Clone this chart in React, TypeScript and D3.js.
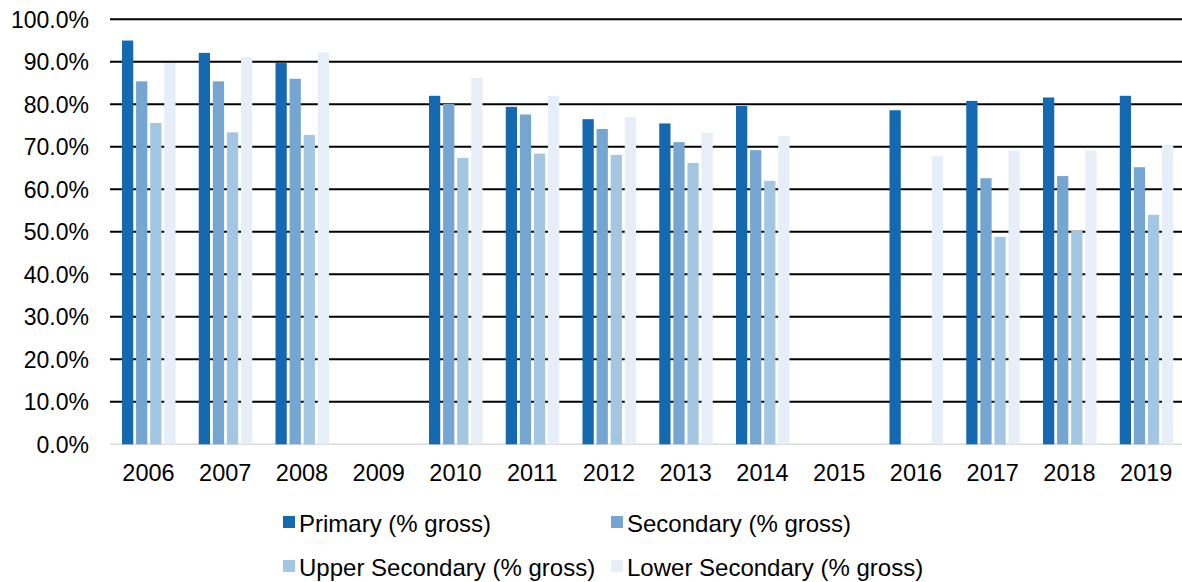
import React from "react";
import * as d3 from "d3";

const years = ["2006","2007","2008","2009","2010","2011","2012","2013","2014","2015","2016","2017","2018","2019"];
const primary: (number|null)[] = [95.0,92.1,89.7,null,82.0,79.4,76.5,75.5,79.6,null,78.6,80.8,81.6,82.0];
const secondary: (number|null)[] = [85.4,85.4,86.0,null,80.1,77.6,74.2,71.1,69.2,null,null,62.6,63.1,65.2];
const upperSecondary: (number|null)[] = [75.6,73.4,72.8,null,67.4,68.4,68.1,66.2,62.0,null,null,48.8,50.2,54.0];
const lowerSecondary: (number|null)[] = [89.7,91.1,92.2,null,86.2,82.0,77.0,73.3,72.5,null,67.8,69.1,69.1,70.4];
const seriesNames = ["Primary (% gross)","Secondary (% gross)","Upper Secondary (% gross)","Lower Secondary (% gross)"];
const colors = ["#1569B0","#74A6D1","#A3C6E3","#E6EEF7"];
const yTicks = [0,10,20,30,40,50,60,70,80,90,100];

const W = 1182, H = 582;
const FONT = "'Liberation Sans', Arial, sans-serif";

export default function App() {
  const allSeries = [primary, secondary, upperSecondary, lowerSecondary];
  const x = d3.scaleBand<string>().domain(years).range([110, 1184.5]).paddingInner(0).paddingOuter(0);
  const xi = d3.scaleBand<number>().domain([0,1,2,3]).range([12, 65.5]).paddingInner(0.2).paddingOuter(0);
  const y = d3.scaleLinear().domain([0, 100]).range([444.3, 19.3]);
  const fmt = (v: number) => v.toFixed(1) + "%";

  const legendItems = [
    { x: 283, y: 523 }, { x: 611, y: 523 }, { x: 283, y: 567 }, { x: 611, y: 567 },
  ];

  return (
    <svg width={W} height={H} style={{ position: "absolute", left: 0, top: 0, background: "#fff" }} fontFamily={FONT}>
      {yTicks.filter(t => t > 0).map(t => (
        <line key={t} x1={110} x2={1182} y1={y(t)} y2={y(t)} stroke="#000" strokeWidth={2} />
      ))}
      <line x1={110} x2={1182} y1={y(0)} y2={y(0)} stroke="#d9d9d9" strokeWidth={1.5} />
      {yTicks.map(t => (
        <text key={t} x={89} y={y(t)} dy="0.36em" textAnchor="end" fontSize={23} fill="#000">{fmt(t)}</text>
      ))}
      {allSeries.map((s, si) => (
        <g key={si}>
          {s.map((v, i) => v == null ? null : (
            <rect key={i} x={(x(years[i]) as number) + (xi(si) as number)} y={y(v)}
              width={xi.bandwidth()} height={y(0) - y(v)} fill={colors[si]} />
          ))}
        </g>
      ))}
      {years.map(yr => (
        <text key={yr} x={(x(yr) as number) + 38.5} y={481} textAnchor="middle" fontSize={23.5} fill="#000">{yr}</text>
      ))}
      {seriesNames.map((n, i) => (
        <g key={n}>
          <rect x={legendItems[i].x} y={legendItems[i].y - 7} width={12} height={12} fill={colors[i]} />
          <text x={legendItems[i].x + 16} y={legendItems[i].y} dy="0.36em" fontSize={24} fill="#000">{n}</text>
        </g>
      ))}
    </svg>
  );
}
